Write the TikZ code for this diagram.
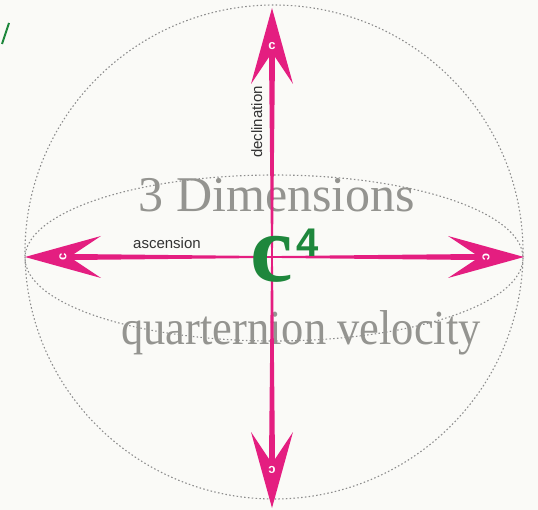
\documentclass[tikz,border=0pt]{standalone}
\usepackage{fontspec}
\setmainfont{Liberation Serif}
\newfontfamily\labelfont{Liberation Sans}
\definecolor{mag}{RGB}{228,30,128}
\definecolor{cgreen}{RGB}{30,135,60}
\definecolor{txtgray}{RGB}{148,148,144}
\definecolor{dotgray}{RGB}{140,140,140}
\definecolor{bg}{RGB}{250,250,247}
\tikzset{
  dotline/.style={draw=dotgray, line width=1.1pt, dash pattern=on 1.5pt off 2.3pt},
  bigtext/.style={text=txtgray, inner sep=0pt, anchor=base},
  cmark/.style={text=white, font=\labelfont\bfseries\fontsize{13}{13}\selectfont, inner sep=0pt},
  smalllabel/.style={text=black!80, inner sep=0pt, font=\labelfont\fontsize{15}{15}\selectfont}
}
\begin{document}
\begin{tikzpicture}[x=1pt,y=-1pt]
\fill[bg] (0,0) rectangle (538,510);
\useasboundingbox (0,0) rectangle (538,510);
% green fragment
\draw[cgreen, line width=2pt] (2,44) -- (9,23);
% sphere outlines
\draw[dotline] (274,252) ellipse [x radius=249, y radius=247];
\draw[dotline] (274,258) ellipse [x radius=249, y radius=83];
% gray texts
\node[bigtext] (dim) at (277,212) {\fontsize{50}{50}\selectfont 3 Dimensions};
\node[bigtext] (qv) at (301,345) {\scalebox{1}[1.1]{\fontsize{44.5}{44.5}\selectfont quarternion velocity}};
% arrows
\coordinate (O) at (272,257);
\foreach \ang/\len/\x/\y in {0/252/524/257, 180/247/25/257, 90/249/272/8, -90/251/272/508}{
  \begin{scope}[shift={(\x,\y)}, rotate=\ang]
    \fill[mag] (0,0) -- (-76,21) -- (-49,3) -- (-\len,0.9) -- (-\len,-0.9) -- (-49,-3) -- (-76,-21) -- cycle;
    \node[cmark, rotate=\ang-90] at (-38,0) {c};
  \end{scope}
}
% C^4
\node[text=cgreen, inner sep=0pt, anchor=base] (c) at (272,282) {\bfseries\fontsize{96}{96}\selectfont c};
\node[text=cgreen, inner sep=0pt, anchor=base west] (four) at (296,257) {\labelfont\bfseries\fontsize{40}{40}\selectfont 4};
% labels
\node[smalllabel, anchor=base] (asc) at (167,249) {ascension};
\node[smalllabel, rotate=90, anchor=base] (dec) at (262,122) {declination};
\end{tikzpicture}
\end{document}
